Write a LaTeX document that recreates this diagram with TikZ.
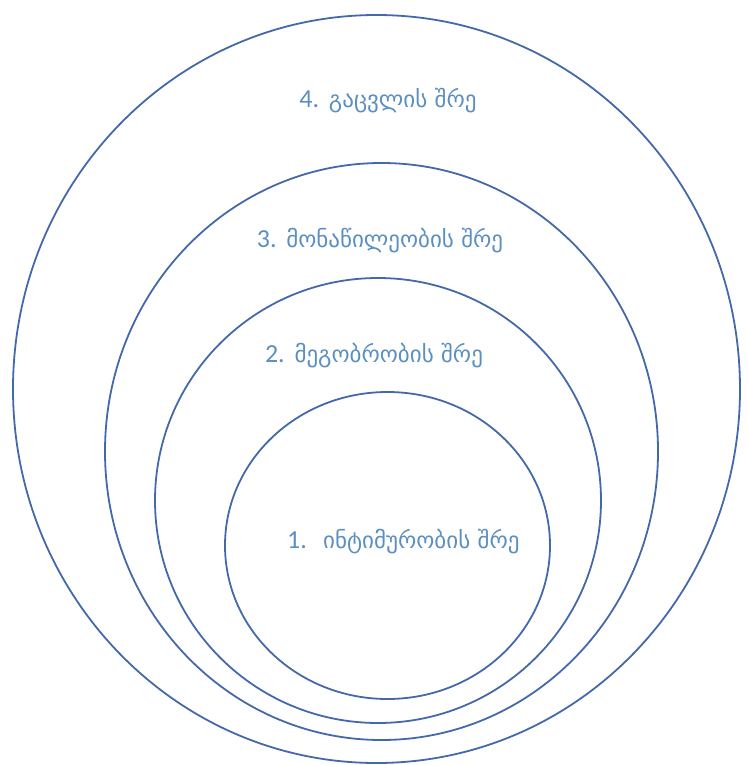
\documentclass[tikz,border=0pt]{standalone}
\usepackage{fontspec}
\setmainfont{DejaVu Sans}
\newfontfamily\latf{Carlito}
\usetikzlibrary{shapes.geometric}
\definecolor{linec}{HTML}{4469AA}
\definecolor{textc}{HTML}{5B8FC0}
\tikzset{
  layer/.style={ellipse, draw=linec, line width=1.8pt, inner sep=0pt},
  lbl/.style={anchor=base, text=textc, font=\fontsize{23}{26}\selectfont, inner sep=0pt},
}
\newcommand{\numtxt}[1]{{\latf\fontsize{26}{28}\selectfont #1}}
\begin{document}
\begin{tikzpicture}[x=1pt,y=-1pt]
\useasboundingbox (0,0) rectangle (747,765);
\node[layer, minimum width=727pt, minimum height=748pt] (l4) at (376.5,389) {};
\node[layer, minimum width=553pt, minimum height=577pt] (l3) at (381.5,451.5) {};
\node[layer, minimum width=446pt, minimum height=445pt] (l2) at (378,500.5) {};
\node[layer, minimum width=325pt, minimum height=307pt] (l1) at (387.5,545.5) {};
\node[lbl] (t4) at (388,107) {\numtxt{4.} გაცვლის შრე};
\node[lbl] (t3) at (380,247) {\numtxt{3.} მონაწილეობის შრე};
\node[lbl] (t2) at (374,362) {\numtxt{2.} მეგობრობის შრე};
\node[lbl, anchor=base west] (t1n) at (287,548) {\numtxt{1.}};
\node[lbl, anchor=base west] (t1) at (323,548) {ინტიმურობის შრე};
\end{tikzpicture}
\end{document}
